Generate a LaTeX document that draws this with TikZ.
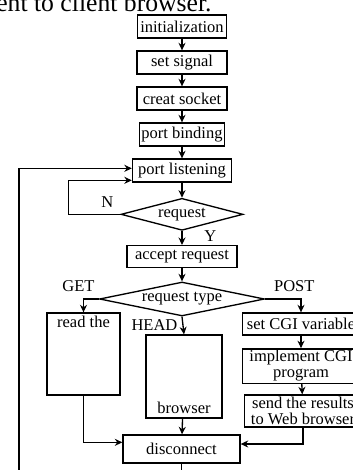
\documentclass[tikz,border=0pt]{standalone}
\usepackage{fontspec}
\setmainfont{Liberation Serif}
\usepackage{tikz}
\usetikzlibrary{positioning}
\usetikzlibrary{arrows.meta}
\usetikzlibrary{shapes.geometric}

\begin{document}
\begin{tikzpicture}[x=0.6pt,y=-0.6pt]
        \tikzstyle{stepbox}=[draw,rectangle,line width=0.8pt,inner sep=1pt,
            font=\fontsize{9.9}{9.6}\selectfont,align=center]
        \tikzstyle{decision}=[draw,diamond,line width=0.8pt,inner sep=0pt,
            font=\fontsize{9.9}{10}\selectfont]
        \tikzstyle{flow}=[-{Stealth[length=4.5pt,width=4.2pt]},line width=0.8pt]
        \tikzstyle{branch}=[font=\fontsize{9.9}{10}\selectfont,inner sep=1pt]
            \useasboundingbox (0,0) rectangle (353,470);
            \node[anchor=base west,inner sep=0pt,font=\fontsize{15.4}{16}\selectfont]
                (caption) at (-4,11) {ent to client browser.};

            % main column
            \node[stepbox,minimum width=53.4pt,minimum height=13.8pt] (init) at (182,26.5) {initialization};
            \node[stepbox,minimum width=54pt,minimum height=13.8pt,below=7pt of init] (signal) {set signal};
            \node[stepbox,minimum width=54pt,minimum height=13.8pt,below=7pt of signal] (socket) {creat socket};
            \node[stepbox,minimum width=51pt,minimum height=13.8pt,below=7pt of socket] (binding) {port binding};
            \node[stepbox,minimum width=59.4pt,minimum height=13.8pt,below=7pt of binding] (listening) {port listening};
            \node[decision,aspect=3.8,minimum width=73.2pt,minimum height=19.2pt,below=9pt of listening] (request) {request};
            \node[stepbox,minimum width=66pt,minimum height=13.2pt,below=8.4pt of request] (accept) {accept request};
            \node[decision,aspect=4.85,minimum width=99pt,minimum height=20.4pt,below=7.8pt of accept] (type) {request type};

            % branches
            \node[stepbox,minimum width=43.8pt,minimum height=49.2pt,
                label={[branch,anchor=north,yshift=-1pt]north:read the}] (readfile) at (83.5,354) {};
            \node[stepbox,minimum width=45.6pt,minimum height=49.8pt,
                label={[branch,anchor=south,yshift=2pt]south:browser}] (browser) at (184,376.5) {};
            \node[stepbox,minimum width=70pt,minimum height=13.2pt] (setcgi) at (301,324) {set CGI variable};
            \node[stepbox,minimum width=70pt,minimum height=19.2pt] (runcgi) at (301,366) {implement CGI\\program};
            \node[stepbox,minimum width=70pt,minimum height=19.2pt] (sendres) at (303,411) {send the results\\to Web browser};
            \node[stepbox,minimum width=70.2pt,minimum height=16.8pt] (disconnect) at (181.5,449) {disconnect};

            \draw[flow] (init) -- (signal);
            \draw[flow] (signal) -- (socket);
            \draw[flow] (socket) -- (binding);
            \draw[flow] (binding) -- (listening);
            \draw[flow] (listening) -- (request);
            \draw[flow] (request) -- (accept)
            node[branch,pos=0.35,right=12pt] {Y};
            \draw[flow] (accept) -- (type);
            \draw[flow] (request.west) -- ++(-52,0)
            node[branch,pos=0.25,above=3pt] {N}
            |- ([yshift=-5.9pt]listening.west);

            \draw[flow] (type.west) -| (readfile.north)
            node[branch,pos=0.5,above=3pt,xshift=-3pt] {GET};
            \draw[flow] (type.south) -- (browser.north)
            node[branch,midway,left=2pt] {HEAD};
            \draw[flow] (type.east) -| (setcgi.north)
            node[branch,pos=0.5,above=3pt,xshift=-4pt] {POST};
            \draw[flow] (setcgi) -- (runcgi);
            \draw[flow] (runcgi) -- (sendres);

            \draw[flow] (readfile.south) |- ([yshift=4pt]disconnect.west);
            \draw[flow] (browser) -- (disconnect);
            \draw[flow] (sendres.south) |- ([yshift=3pt]disconnect.east);
            \draw[flow] (disconnect.south) -- ++(0,25) -- ++(-162.5,0)
            |- ([yshift=1.3pt]listening.west);
        \end{tikzpicture}
\end{document}
